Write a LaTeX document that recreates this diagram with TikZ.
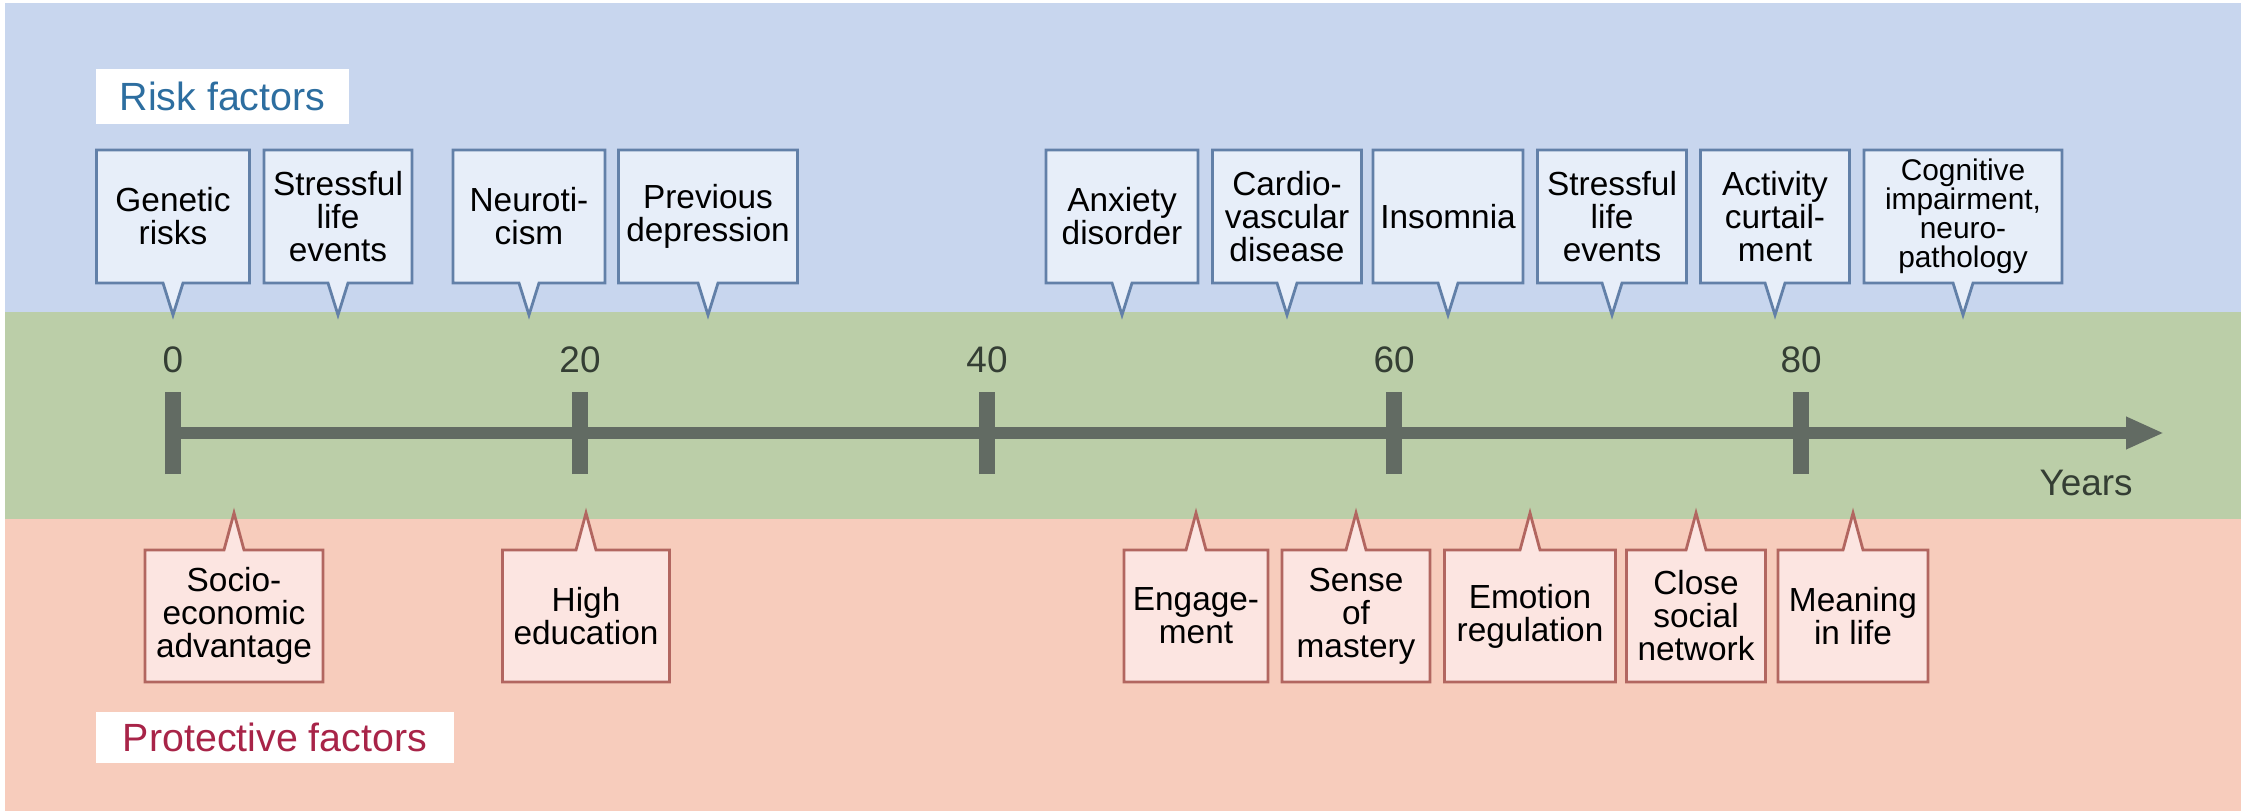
\documentclass[tikz,border=0pt]{standalone}
\usepackage{fontspec}
\setmainfont{Liberation Sans}
\usetikzlibrary{shapes.callouts,arrows.meta}
\definecolor{bandblue}{RGB}{200,214,238}
\definecolor{bandgreen}{RGB}{187,206,168}
\definecolor{bandpink}{RGB}{247,204,188}
\definecolor{riskfill}{RGB}{231,238,249}
\definecolor{riskline}{RGB}{98,128,168}
\definecolor{protfill}{RGB}{252,229,225}
\definecolor{protline}{RGB}{178,102,96}
\definecolor{axisgray}{RGB}{98,107,99}
\definecolor{agetext}{RGB}{52,62,52}
\definecolor{risktext}{RGB}{45,110,160}
\definecolor{prottext}{RGB}{168,36,72}
\tikzset{
	risk/.style={rectangle callout,draw=riskline,fill=riskfill,line width=0.8pt,
		align=center,minimum height=1.33cm,inner sep=1pt,callout pointer width=0.2cm,
		font=\fontsize{9.5}{9.4}\selectfont},
	prot/.style={risk,draw=protline,fill=protfill,minimum height=1.32cm},
	title/.style={fill=white,inner sep=0pt,font=\fontsize{11.2}{13}\selectfont},
	axis/.style={draw=axisgray,line width=0.12cm},
	age/.style={text=agetext,font=\fontsize{10.5}{12}\selectfont}
}
\begin{document}
\begin{tikzpicture}
\useasboundingbox (0,0) rectangle (22.41,8.11);
%bands
\fill[white] (0,0) rectangle (22.41,8.11);
\fill[bandpink] (0.05,0) rectangle (22.41,2.92);
\fill[bandgreen] (0.05,2.92) rectangle (22.41,4.99);
\fill[bandblue] (0.05,4.99) rectangle (22.41,8.08);
%titles
\node[title,text=risktext,minimum width=2.53cm,minimum height=0.55cm] (risk) at (2.225,7.145) {Risk factors};
\node[title,text=prottext,minimum width=3.58cm,minimum height=0.51cm] (prot) at (2.75,0.735) {Protective factors};
%axis
\coordinate (start) at (1.73,3.78);
\coordinate (end) at (21.64,3.78);
\draw[axis,-{Triangle[length=0.38cm,width=0.30cm]}] (start) -- (end);
\foreach \i/\a in {0/0,1/20,2/40,3/60,4/80}{
	\coordinate (tick\a) at (1.73+4.07*\i,3.78);
	\draw[axis,line width=0.155cm] ([yshift=-0.41cm]tick\a) -- ([yshift=0.41cm]tick\a);
	\node[age] (age\a) at (1.73+4.07*\i,4.51) {\a};
}
\node[age] (years) at (20.86,3.28) {Years};
%risk factors
\foreach \n/\x/\w/\t in {gen/1.73/1.53/{Genetic\\risks},
	str/3.38/1.48/{Stressful\\life\\events},
	neu/5.29/1.52/{Neuroti-\\cism},
	dep/7.08/1.79/{Previous\\depression},
	anx/11.22/1.52/{Anxiety\\disorder},
	car/12.87/1.49/{Cardio-\\vascular\\disease},
	ins/14.48/1.50/{Insomnia},
	lif/16.12/1.49/{Stressful\\life\\events},
	act/17.75/1.49/{Activity\\curtail-\\ment}}{
	\coordinate (\n-tip) at (\x,4.96);
	\node[risk,minimum width=\w cm,callout absolute pointer=(\n-tip)] (\n) at (\x,5.945) {\t};
}
\coordinate (cog-tip) at (19.63,4.96);
\node[risk,minimum width=1.98cm,callout absolute pointer=(cog-tip),
	font=\fontsize{8.5}{8.3}\selectfont] (cog) at (19.63,5.945) {Cognitive\\impairment,\\neuro-\\pathology};
%protective factors
\foreach \n/\x/\w/\t in {soc/2.34/1.78/{Socio-\\economic\\advantage},
	edu/5.86/1.67/{High\\education},
	eng/11.96/1.44/{Engage-\\ment},
	mas/13.56/1.48/{Sense\\of\\mastery},
	emo/15.30/1.71/{Emotion\\regulation},
	net/16.96/1.39/{Close\\social\\network},
	mea/18.53/1.50/{Meaning\\in life}}{
	\coordinate (\n-tip) at (\x,2.98);
	\node[prot,minimum width=\w cm,callout absolute pointer=(\n-tip)] (\n) at (\x,1.95) {\t};
}
\end{tikzpicture}
\end{document}
